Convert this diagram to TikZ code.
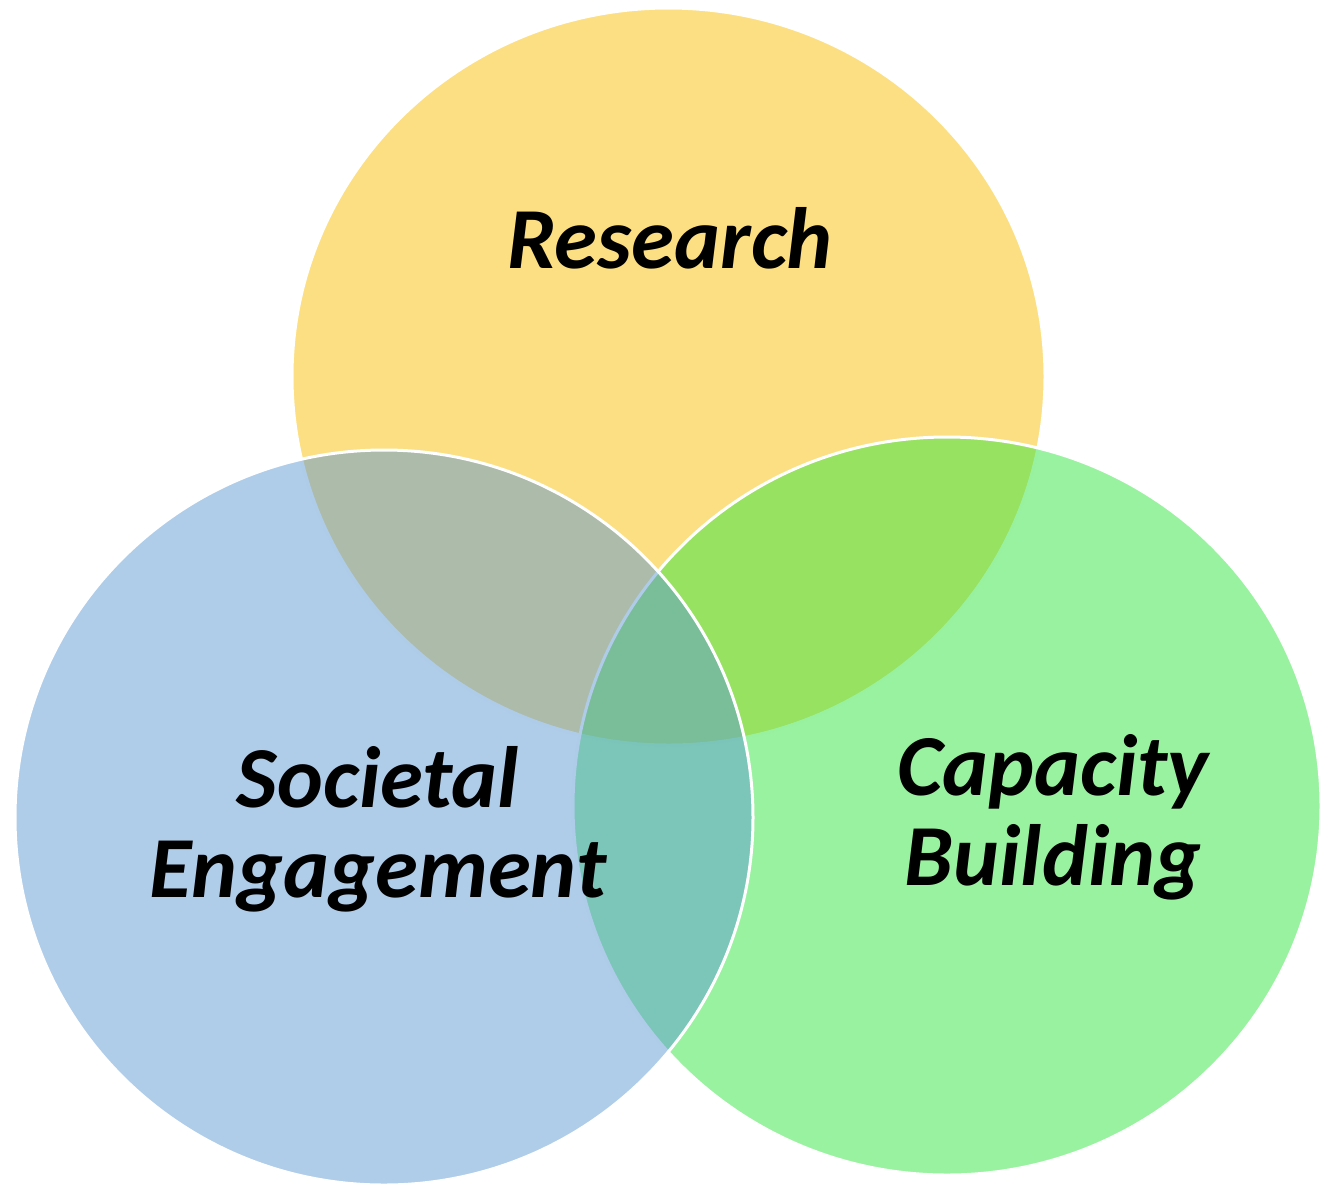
\documentclass[tikz,border=0pt]{standalone}
\usepackage{fontspec}
\setmainfont{Carlito}
\definecolor{cyel}{RGB}{249,191,5}
\definecolor{cgrn}{RGB}{51,229,65}
\definecolor{cblu}{RGB}{95,153,211}
\tikzset{
  venn/.style={draw=white, line width=3pt, fill opacity=0.5},
  lbl/.style={font=\fontsize{87}{90}\selectfont\bfseries\itshape, align=center, inner sep=0pt, text=black}
}
\begin{document}
\begin{tikzpicture}[x=1pt,y=-1pt]
\useasboundingbox (0,0) rectangle (1322,1187);
\draw[venn, fill=cyel] (668.5,376.5) ellipse [x radius=376.5, y radius=368.5];
\draw[venn, fill=cgrn] (947,806) ellipse [x radius=374, y radius=369];
\draw[venn, fill=cblu] (384,817.5) ellipse [x radius=369, y radius=367.5];
\node[lbl, anchor=base] (research) at (670,268) {Research};
\node[lbl, anchor=base] (societal) at (378,897) {Societal\\Engagement};
\node[lbl, anchor=base] (capacity) at (1053,885) {Capacity\\Building};
\end{tikzpicture}
\end{document}
